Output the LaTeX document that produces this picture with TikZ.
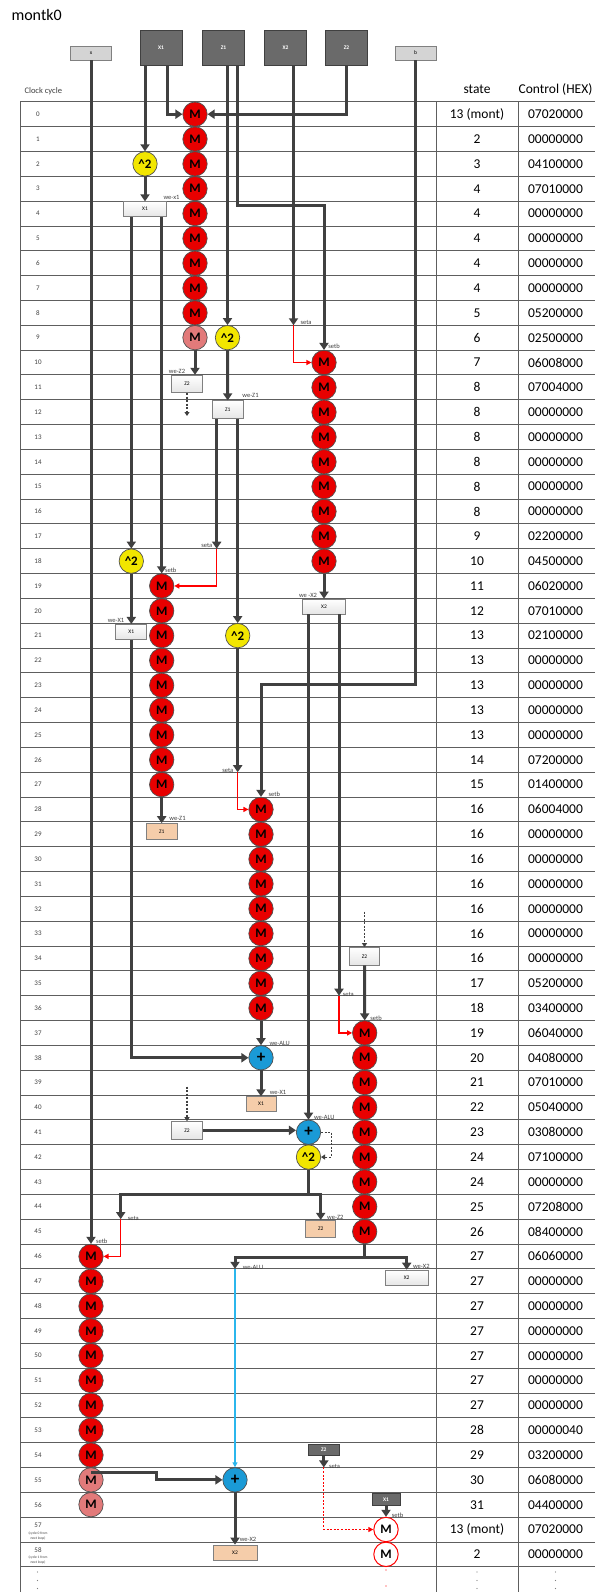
\documentclass[tikz,border=0pt]{standalone}
\usepackage{fontspec}
\setmainfont{Carlito}
\usetikzlibrary{arrows.meta,backgrounds,calc}
\definecolor{dk}{HTML}{404040}
\definecolor{gridc}{HTML}{5E5E5E}
\definecolor{mred}{HTML}{E80000}
\definecolor{mpink}{HTML}{E27A7A}
\definecolor{myel}{HTML}{F2E600}
\definecolor{mblue}{HTML}{1A9AD6}
\definecolor{lblue}{HTML}{2BB6EC}
\definecolor{morange}{HTML}{F5CDAA}
\definecolor{dbox}{HTML}{6A6A6A}
\definecolor{lbox}{HTML}{D4D4D4}
\definecolor{edge}{HTML}{505050}
\definecolor{lab}{HTML}{404040}
\tikzset{
  opcirc/.style={circle, minimum size=24.4pt, inner sep=0pt, draw=edge, line width=0.7pt, font=\fontsize{13}{13}\selectfont\bfseries},
  mr/.style={opcirc, fill=mred},
  mp/.style={opcirc, fill=mpink},
  sq/.style={opcirc, fill=myel},
  pl/.style={opcirc, fill=mblue, font=\fontsize{17}{17}\selectfont\bfseries},
  mo/.style={opcirc, fill=white, draw=red, line width=1pt},
  regw/.style={rectangle, draw=gray, line width=0.7pt, top color=white, bottom color=gray!20, inner sep=0pt, font=\fontsize{5.5}{6}\selectfont},
  rego/.style={rectangle, draw=gray, line width=0.7pt, fill=morange, inner sep=0pt, font=\fontsize{5.5}{6}\selectfont},
  regd/.style={rectangle, draw=dk, line width=0.7pt, fill=dbox, inner sep=0pt, text=white, font=\fontsize{5.5}{6}\selectfont\bfseries},
  regl/.style={rectangle, draw=gray, line width=0.7pt, fill=lbox, inner sep=0pt, font=\fontsize{5.5}{6}\selectfont},
  thk/.style={draw=dk, line width=3pt, -{Triangle[width=9pt,length=7pt]}},
  thkn/.style={draw=dk, line width=3pt},
  redarr/.style={draw=red, line width=1.2pt, -{Triangle[width=5pt,length=5pt]}},
  dsh/.style={draw=dk, line width=1.1pt, dash pattern=on 2pt off 1.5pt, -{Triangle[width=5pt,length=4pt]}},
  lbl/.style={font=\fontsize{6.5}{7}\selectfont, text=lab, inner sep=0pt},
  val/.style={font=\fontsize{13.5}{14}\selectfont},
  cyc/.style={font=\fontsize{7}{8}\selectfont, text=lab},
  tiny/.style={font=\fontsize{3.6}{4}\selectfont, text=lab, inner sep=0pt},
  dotc/.style={circle, fill=gray, inner sep=0pt, minimum size=1.2pt},
}
\begin{document}
\begin{tikzpicture}[x=1pt,y=-1pt, declare function={rt(\i)=101.8+24.83*\i; rc(\i)=114.2+24.83*\i;}]
\useasboundingbox (0,0) rectangle (595,1592);

% ---------- headers ----------
\node[anchor=west, font=\fontsize{16}{17}\selectfont] (title) at (8,15) {montk0};
\node[anchor=west, font=\fontsize{8.5}{9}\selectfont, text=lab] (hcc) at (21,91) {Clock cycle};
\node[font=\fontsize{13.5}{14}\selectfont] (hst) at (477,89.5) {state};
\node[font=\fontsize{13.5}{14}\selectfont] (hct) at (555.5,89.5) {Control (HEX)};

% ---------- table ----------
\begin{pgfonlayer}{background}
\fill[white] (0,0) rectangle (595,1592);
\foreach \i in {0,...,59} \draw[gridc, line width=0.9pt] (20,{rt(\i)}) -- (595,{rt(\i)});
\draw[gridc, line width=0.9pt] (20,{rt(0)}) -- (20,1592);
\draw[gridc, line width=0.9pt] (436,{rt(0)}) -- (436,1592);
\draw[gridc, line width=0.9pt] (518,{rt(0)}) -- (518,1592);
\end{pgfonlayer}

\foreach \i in {0,...,56} \node[cyc] (cy\i) at (38,{rc(\i)}) {\i};
\node[cyc] (cy57) at (38,{rt(57)+8.5}) {57};
\node[tiny] (cy57a) at (38,{rt(57)+16}) {(cycle 0 from};
\node[tiny] (cy57b) at (38,{rt(57)+21}) {next loop)};
\node[cyc] (cy58) at (38,{rt(58)+8.5}) {58};
\node[tiny] (cy58a) at (38,{rt(58)+16}) {(cycle 1 from};
\node[tiny] (cy58b) at (38,{rt(58)+21}) {next loop)};

\foreach \i/\s/\c in {0/13 (mont)/07020000,1/2/00000000,2/3/04100000,3/4/07010000,4/4/00000000,5/4/00000000,6/4/00000000,7/4/00000000,8/5/05200000,9/6/02500000,10/7/06008000,11/8/07004000,12/8/00000000,13/8/00000000,14/8/00000000,15/8/00000000,16/8/00000000,17/9/02200000,18/10/04500000,19/11/06020000,20/12/07010000,21/13/02100000,22/13/00000000,23/13/00000000,24/13/00000000,25/13/00000000,26/14/07200000,27/15/01400000,28/16/06004000,29/16/00000000,30/16/00000000,31/16/00000000,32/16/00000000,33/16/00000000,34/16/00000000,35/17/05200000,36/18/03400000,37/19/06040000,38/20/04080000,39/21/07010000,40/22/05040000,41/23/03080000,42/24/07100000,43/24/00000000,44/25/07208000,45/26/08400000,46/27/06060000,47/27/00000000,48/27/00000000,49/27/00000000,50/27/00000000,51/27/00000000,52/27/00000000,53/28/00000040,54/29/03200000,55/30/06080000,56/31/04400000,57/13 (mont)/07020000,58/2/00000000}
{
  \node[val] (st\i) at (477,{rc(\i)}) {\s};
  \node[val] (ct\i) at (555.5,{rc(\i)}) {\c};
}

% bottom dots
\foreach \y in {1572,1580.5,1588.5} {
  \node[dotc] at (37.5,\y) {};
  \node[dotc] at (477,\y) {};
  \node[dotc] at (555.5,\y) {};
}
\node[dotc, fill=red] (rd1) at (386,1570) {};
\node[dotc, fill=red] (rd2) at (386,1586) {};

% ---------- top registers ----------
\node[regl, minimum width=41pt, minimum height=14pt] (xtop) at (91,53) {x};
\node[regd, minimum width=42pt, minimum height=35pt] (X1top) at (161,48) {X1};
\node[regd, minimum width=42pt, minimum height=35pt] (Z1top) at (223.5,48) {Z1};
\node[regd, minimum width=42pt, minimum height=35pt] (X2top) at (285.5,48) {X2};
\node[regd, minimum width=42pt, minimum height=35pt] (Z2top) at (346.5,48) {Z2};
\node[regl, minimum width=41pt, minimum height=14pt] (btop) at (415.5,53) {b};

% ---------- operation circles ----------
\foreach \i in {0,...,8} \node[mr] (a\i) at (195,{rc(\i)}) {M};
\node[mp] (a9) at (195,{rc(9)}) {M};
\foreach \i in {10,...,18} \node[mr] (b\i) at (324,{rc(\i)}) {M};
\foreach \i in {19,...,27} \node[mr] (m\i) at (161.7,{rc(\i)}) {M};
\foreach \i in {28,...,36} \node[mr] (c\i) at (261,{rc(\i)}) {M};
\foreach \i in {37,...,45} \node[mr] (d\i) at (364.7,{rc(\i)}) {M};
\foreach \i in {46,...,54} \node[mr] (e\i) at (91,{rc(\i)}) {M};
\node[mp] (e55) at (91,{rc(55)}) {M};
\node[mp] (e56) at (91,{rc(56)}) {M};
\node[mo] (r57) at (386,{rc(57)}) {M};
\node[mo] (r58) at (386,{rc(58)}) {M};

\node[sq] (sqA) at (145,{rc(2)}) {\textasciicircum 2};
\node[sq] (sqB) at (227.5,{rc(9)}) {\textasciicircum 2};
\node[sq] (sqC) at (131.3,{rc(18)}) {\textasciicircum 2};
\node[sq] (sqD) at (237.7,{rc(21)}) {\textasciicircum 2};
\node[sq] (sqE) at (308.5,{rc(42)}) {\textasciicircum 2};
\node[pl] (plA) at (261,{rc(38)}) {+};
\node[pl] (plB) at (308.5,{rc(41)}) {+};
\node[pl] (plC) at (235,{rc(55)}) {+};

% ---------- registers in table ----------
\node[regw, minimum width=43pt, minimum height=15pt] (X1w4) at (145,{rt(4)+8.1}) {X1};
\node[regw, minimum width=31pt, minimum height=17.5pt] (Z2w11) at (187,{rt(11)+9}) {Z2};
\node[regw, minimum width=31pt, minimum height=17.5pt] (Z1w12) at (227.7,{rt(12)+9.7}) {Z1};
\node[regw, minimum width=43.5pt, minimum height=15pt] (X2w20) at (324,{rt(20)+8.1}) {X2};
\node[regw, minimum width=31pt, minimum height=15pt] (X1w21) at (131.3,{rt(21)+8.6}) {X1};
\node[rego, minimum width=31pt, minimum height=16pt] (Z1o29) at (161.7,{rt(29)+9.7}) {Z1};
\node[regw, minimum width=30pt, minimum height=17.5pt] (Z2w34) at (364.5,{rt(34)+10.2}) {Z2};
\node[rego, minimum width=30pt, minimum height=15pt] (X1o40) at (261,{rt(40)+9.2}) {X1};
\node[regw, minimum width=31pt, minimum height=17.5pt] (Z2w41) at (187,{rt(41)+10.5}) {Z2};
\node[rego, minimum width=30pt, minimum height=17pt] (Z2o45) at (320.7,{rt(45)+9.6}) {Z2};
\node[regw, minimum width=43pt, minimum height=15.5pt] (X2w47) at (406.7,{rt(47)+9}) {X2};
\node[regd, minimum width=31pt, minimum height=11.5pt] (Z2d54) at (323.8,{rt(54)+7.3}) {Z2};
\node[regd, minimum width=28pt, minimum height=11.5pt] (X1d56) at (386,{rt(56)+7}) {X1};
\node[rego, minimum width=44pt, minimum height=15pt] (X2o58) at (235,{rt(58)+10.5}) {X2};

% ---------- helper coordinates ----------
\coordinate (cX1a) at (145,0);
\coordinate (cX1b) at (167,0);
\coordinate (cZ1a) at (227.5,0);
\coordinate (cZ1b) at (237.5,0);
\coordinate (cX2) at (293.5,0);
\coordinate (cQ) at (131.3,0);
\coordinate (cB2) at (161.7,0);
\coordinate (cZ1L) at (216.7,0);
\coordinate (cZ1R) at (237.7,0);
\coordinate (cX2L) at (308.5,0);
\coordinate (cX2R) at (339,0);
\coordinate (j1) at (324,205);
\coordinate (seta1) at (293.5,{rt(9)});
\coordinate (j2) at (261,684.3);
\coordinate (seta2) at (216.7,{rt(18)});
\coordinate (seta3) at (237.7,{rt(27)});
\coordinate (seta4) at (339,{rt(36)});
\coordinate (d1) at (187,416);
\coordinate (d2) at (364.5,911.7);
\coordinate (d3) at (187,1086.7);
\coordinate (hL) at (120.7,1194.3);
\coordinate (hR) at (320.7,1194.3);
\coordinate (seta5) at (120.7,{rt(45)});
\coordinate (gL) at (235,{rc(46)+1});
\coordinate (gR) at (406.7,{rc(46)+1});
\coordinate (alu3) at (235,{rt(47)});
\coordinate (s55) at (91,{rc(55)-7});
\coordinate (seta6) at (323.8,{rt(55)});

% ---------- connectors ----------
\draw[thk] (xtop.south) -- (e46.north);
\draw[thk] (X1top.south -| cX1a) -- (sqA.north);
\draw[thk] (X1top.south -| cX1b) |- (a0.west);
\draw[thk] (Z1top.south -| cZ1a) -- (sqB.north);
\draw[thk] (Z1top.south -| cZ1b) |- (j1) -- (b10.north);
\draw[thk] (X2top.south -| cX2) -- (seta1);
\draw[redarr] (seta1) |- (b10.west);
\draw[thk] (Z2top.south) |- (a0.east);
\draw[thk] (btop.south) |- (j2) -- (c28.north);

\draw[thk] (sqA.south) -- (X1w4.north);
\draw[thk] (X1w4.south -| cQ) -- (sqC.north);
\draw[thk] (X1w4.south -| cB2) -- (m19.north);
\draw[thk] (a9.south) -- (a9.south |- Z2w11.north);
\draw[dsh] (Z2w11.south) -- (d1);
\draw[thk] (sqB.south) -- (Z1w12.north);
\draw[thk] (Z1w12.south -| cZ1L) -- (seta2);
\draw[redarr] (seta2) |- (m19.east);
\draw[thk] (Z1w12.south -| cZ1R) -- (sqD.north);
\draw[thk] (b18.south) -- (X2w20.north);
\draw[thk] (sqC.south) -- (X1w21.north);
\draw[thk] (X1w21.south) |- (plA.west);
\draw[thk] (sqD.south) -- (seta3);
\draw[redarr] (seta3) |- (c28.west);
\draw[thk] (m27.south) -- (Z1o29.north);
\draw[thk] (X2w20.south -| cX2L) -- (plB.north);
\draw[thk] (X2w20.south -| cX2R) -- (seta4);
\draw[redarr] (seta4) |- (d37.west);
\draw[dsh] (d2) -- (Z2w34.north);
\draw[thk] (Z2w34.south) -- (d37.north);
\draw[thk] (c36.south) -- (plA.north);
\draw[thk] (plA.south) -- (X1o40.north);
\draw[dsh] (d3) -- (Z2w41.north);
\draw[thk] (Z2w41.east) -- (Z2w41.east -| plB.west);
\draw[dsh] (plB.east) -- ++(10,0) |- (sqE.east);
\draw[thk] (sqE.south) |- (hL) -- (seta5);
\draw[thk] (sqE.south) |- (hR) -- (Z2o45.north);
\draw[redarr] (seta5) |- (e46.east);
\draw[thk] (d45.south) |- (gL) -- (alu3);
\draw[thk] (d45.south) |- (gR) -- (X2w47.north);
\draw[draw=lblue, line width=1.3pt, -{Triangle[width=5pt,length=5pt]}] (alu3) -- (plC.north);
\draw[thk] (s55) -- ++(65,0) |- (plC.west);
\draw[thk] (plC.south) -- (X2o58.north);
\draw[thk] (Z2d54.south) -- (seta6);
\draw[redarr, dash pattern=on 2pt off 1.6pt] (seta6) |- (r57.west);
\draw[thk] (X1d56.south) -- (r57.north);

% ---------- small labels ----------
\node[lbl] at (334,346.5) {setb};
\node[lbl] at (306,322.5) {seta};
\node[lbl] at (171.5,197.5) {we-x1};
\node[lbl] at (177,371) {we-Z2};
\node[lbl] at (250.5,395.7) {we-Z1};
\node[lbl] at (206.8,545.7) {seta};
\node[lbl] at (170.7,570) {setb};
\node[lbl] at (308,595.5) {we -X2};
\node[lbl] at (116,620.5) {we-X1};
\node[lbl] at (227.8,770) {seta};
\node[lbl] at (274.3,794.3) {setb};
\node[lbl] at (177.5,818) {we-Z1};
\node[lbl] at (348.3,994) {seta};
\node[lbl] at (376,1018.7) {setb};
\node[lbl] at (279.7,1043.5) {we-ALU};
\node[lbl] at (278,1092) {we-X1};
\node[lbl] at (324.3,1117.7) {we-ALU};
\node[lbl] at (133.3,1218.3) {seta};
\node[lbl] at (335.3,1217.3) {we-Z2};
\node[lbl] at (101.7,1241.7) {setb};
\node[lbl] at (253,1267.3) {we-ALU};
\node[lbl] at (421.3,1266.7) {we-X2};
\node[lbl] at (334.5,1466) {seta};
\node[lbl] at (397.5,1515) {setb};
\node[lbl] at (248,1539) {we-X2};
\end{tikzpicture}
\end{document}
